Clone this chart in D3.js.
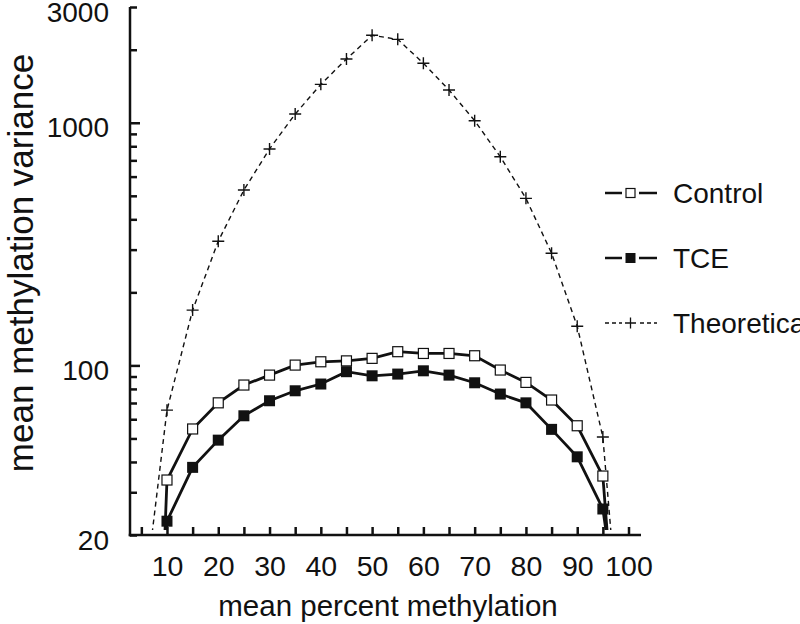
<!DOCTYPE html>
<html>
<head>
<meta charset="utf-8">
<script src="https://cdn.jsdelivr.net/npm/d3@7"></script>
<style>
  body { margin: 0; background: #fff; }
  svg { display: block; font-family: "Liberation Sans", Arial, sans-serif; }
</style>
</head>
<body>
<svg id="chart" width="800" height="624"></svg>
<script>
// mean percent methylation (5 and 100 are the ends that fall below the axis)
const pctMeth = [5, 10, 15, 20, 25, 30, 35, 40, 45, 50, 55, 60, 65, 70, 75, 80, 85, 90, 95, 100];
const control = [0.065, 33.7, 54.7, 70.1, 83, 91.2, 100.3, 103.5, 104.4, 106.9, 113.9, 112, 112, 109.6, 95.7, 85.1, 72, 56.4, 35, 1.5];
const tce = [0.05, 22.8, 38, 49.2, 62, 71.5, 78.6, 83.8, 94.2, 90.6, 92.1, 95, 91.2, 84.8, 76.2, 70.1, 54.5, 42, 25.6, 4.7];
const theoretical = [8.7, 65.4, 169, 325, 528, 780, 1086, 1440, 1831, 2293, 2207, 1758, 1365, 1020, 724, 488, 290, 145, 50.7, 2.9];

const xTicks = [5, 10, 15, 20, 25, 30, 35, 40, 45, 50, 55, 60, 65, 70, 75, 80, 85, 90, 95, 100];
const xLabels = [10, 20, 30, 40, 50, 60, 70, 80, 90, 100];
const yTicks = [3000, 2000, 1000, 900, 800, 700, 600, 500, 400, 300, 200, 100, 90, 80, 70, 60, 50, 40, 30, 20];
const yLabels = [3000, 1000, 100, 20];
const yMajor = [1000, 100];

const svg = d3.select("#chart");
const axisX = 130, axisY = 535, axisRight = 641, axisTop = 7;

const x = d3.scaleLinear().domain([0, 100]).range([115.7, 628.5]);
const y = d3.scaleLog().domain([20, 3000]).range([535, 7]);

// clip so lines running off toward 0 stop just above the axis
svg.append("clipPath").attr("id", "plotclip")
  .append("rect").attr("x", axisX + 1).attr("y", 0)
  .attr("width", axisRight - axisX).attr("height", 530);

// axes
const gy = svg.append("g")
  .attr("transform", `translate(${axisX},0)`)
  .call(d3.axisLeft(y).tickValues(yTicks).tickSizeInner(-7).tickSizeOuter(0).tickPadding(21)
    .tickFormat(d => yLabels.includes(d) ? d : ""));
gy.select(".domain").remove();
gy.selectAll(".tick line").attr("stroke", "#111").attr("stroke-width", 2.5)
  .attr("x2", d => yMajor.includes(d) ? 10 : 7);
gy.selectAll(".tick text").attr("font-size", 28).attr("fill", "#111")
  .attr("font-family", "Liberation Sans, Arial, sans-serif").attr("dy", "0.5em");

const gx = svg.append("g")
  .attr("transform", `translate(0,${axisY})`)
  .call(d3.axisBottom(x).tickValues(xTicks).tickSizeInner(-8).tickSizeOuter(0).tickPadding(21)
    .tickFormat(d => xLabels.includes(d) ? d : ""));
gx.select(".domain").remove();
gx.selectAll(".tick line").attr("stroke", "#111").attr("stroke-width", 2.5);
gx.selectAll(".tick text").attr("font-size", 28.5).attr("fill", "#111")
  .attr("font-family", "Liberation Sans, Arial, sans-serif");

svg.append("line").attr("x1", axisX).attr("x2", axisX).attr("y1", axisTop).attr("y2", axisY + 1.25)
  .attr("stroke", "#111").attr("stroke-width", 2.5);
svg.append("line").attr("x1", axisX - 1.25).attr("x2", axisRight).attr("y1", axisY).attr("y2", axisY)
  .attr("stroke", "#111").attr("stroke-width", 2.5);

// axis titles
svg.append("text")
  .attr("x", 388).attr("y", 616)
  .attr("text-anchor", "middle").attr("font-size", 29.5).attr("fill", "#111")
  .text("mean percent methylation");

svg.append("text")
  .attr("transform", "translate(33,263) rotate(-90)")
  .attr("text-anchor", "middle").attr("font-size", 35).attr("fill", "#111")
  .text("mean methylation variance");

// series
const plot = svg.append("g").attr("clip-path", "url(#plotclip)");

const line = d3.line().x(d => x(d[0])).y(d => y(d[1]));
const pts = vals => pctMeth.map((p, i) => [p, vals[i]]);

plot.append("path").datum(pts(theoretical))
  .attr("fill", "none").attr("stroke", "#111").attr("stroke-width", 1.4)
  .attr("stroke-dasharray", "5,4").attr("d", line);

plot.append("path").datum(pts(control))
  .attr("fill", "none").attr("stroke", "#111").attr("stroke-width", 2.8).attr("d", line);

plot.append("path").datum(pts(tce))
  .attr("fill", "none").attr("stroke", "#111").attr("stroke-width", 2.8).attr("d", line);

plot.selectAll(".theo").data(pts(theoretical)).join("path")
  .attr("class", "theo")
  .attr("transform", d => `translate(${x(d[0])},${y(d[1])})`)
  .attr("d", "M-6,0H6M0,-6V6")
  .attr("stroke", "#111").attr("stroke-width", 1.4).attr("fill", "none");

plot.selectAll(".ctl").data(pts(control)).join("rect")
  .attr("class", "ctl")
  .attr("x", d => x(d[0]) - 5).attr("y", d => y(d[1]) - 5)
  .attr("width", 10).attr("height", 10)
  .attr("fill", "#fff").attr("stroke", "#111").attr("stroke-width", 1.2);

plot.selectAll(".tce").data(pts(tce)).join("rect")
  .attr("class", "tce")
  .attr("x", d => x(d[0]) - 5.5).attr("y", d => y(d[1]) - 5.5)
  .attr("width", 11).attr("height", 11)
  .attr("fill", "#111");

// legend
const legend = [
  { name: "Control", y: 193, type: "open" },
  { name: "TCE", y: 258, type: "filled" },
  { name: "Theoretical", y: 323, type: "plus" }
];
const lg = svg.selectAll(".legend").data(legend).join("g")
  .attr("class", "legend")
  .attr("transform", d => `translate(0,${d.y})`);

lg.filter(d => d.type !== "plus").each(function () {
  const g = d3.select(this);
  g.append("line").attr("x1", 605).attr("x2", 622).attr("stroke", "#111").attr("stroke-width", 2.5);
  g.append("line").attr("x1", 639).attr("x2", 657).attr("stroke", "#111").attr("stroke-width", 2.5);
});
lg.filter(d => d.type === "open").append("rect")
  .attr("x", 626).attr("y", -4.5).attr("width", 9).attr("height", 9)
  .attr("fill", "#fff").attr("stroke", "#111").attr("stroke-width", 1.2);
lg.filter(d => d.type === "filled").append("rect")
  .attr("x", 625.5).attr("y", -5).attr("width", 10).attr("height", 10)
  .attr("fill", "#111");
lg.filter(d => d.type === "plus").each(function () {
  const g = d3.select(this);
  g.append("line").attr("x1", 605).attr("x2", 622).attr("stroke", "#111")
    .attr("stroke-width", 1.3).attr("stroke-dasharray", "4,3");
  g.append("line").attr("x1", 640).attr("x2", 657).attr("stroke", "#111")
    .attr("stroke-width", 1.3).attr("stroke-dasharray", "4,3");
  g.append("path").attr("d", "M625,0H636M630.5,-5.5V5.5").attr("stroke", "#111").attr("stroke-width", 1.3);
});
lg.append("text")
  .attr("x", 673).attr("y", 10)
  .attr("font-size", 28).attr("fill", "#111")
  .text(d => d.name);
</script>
</body>
</html>
